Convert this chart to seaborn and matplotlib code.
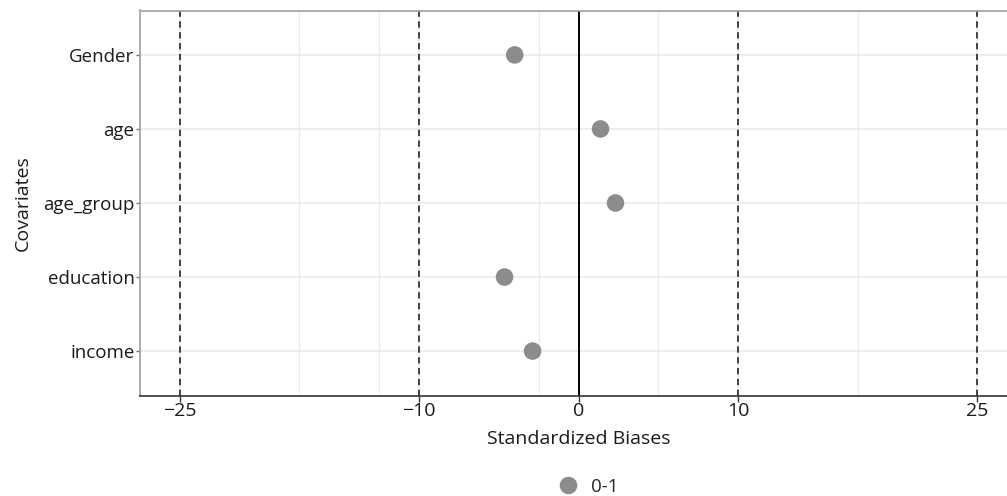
import pandas as pd
import seaborn as sns
import matplotlib.pyplot as plt

# values
covariates = ['Gender', 'age', 'age_group', 'education', 'income']
biases = [-4.0, 1.38, 2.32, -4.64, -2.88]
groups = ['0-1'] * len(covariates)
x_breaks = [-25, -10, 0, 10, 25]
minor_breaks = [-17.5, -12.5, -2.5, 5, 17.5]
ref_lines = [-25, -10, 10, 25]

df = pd.DataFrame({'Covariates': covariates, 'Standardized Biases': biases, 'group': groups})

sns.set_style('white')
plt.rcParams['font.family'] = ['Open Sans', 'DejaVu Sans']

fig = plt.figure(figsize=(10.07, 4.96), dpi=100)
W, H = 1007, 496
left, right, top, bottom = 140, 1017, 10.5, 395.5
ax = fig.add_axes([left / W, 1 - bottom / H, (right - left) / W, (bottom - top) / H])

# grid
for v in minor_breaks:
    ax.axvline(v, color='#ebebeb', lw=0.9, zorder=0)
for v in x_breaks:
    ax.axvline(v, color='#ebebeb', lw=1.2, zorder=0)
for i in range(len(covariates)):
    ax.axhline(i, color='#ebebeb', lw=1.2, zorder=0)

for v in ref_lines:
    ax.axvline(v, color='#333333', lw=1.3, ls=(0, (3.5, 2.5)), zorder=1)
ax.axvline(0, color='black', lw=1.4, zorder=1)

sns.scatterplot(data=df, x='Standardized Biases', y='Covariates', hue='group',
                palette=['#8c8c8c'], s=160, edgecolor='none', ax=ax, zorder=3)

ax.set_xlim(-27.5, 27.5)
ax.set_ylim(len(covariates) - 0.4, -0.6)
ax.set_xticks(x_breaks)
ax.set_xticklabels(['\u221225', '\u221210', '0', '10', '25'])

for side in ['left', 'top', 'right']:
    ax.spines[side].set_color('#a0a0a0')
    ax.spines[side].set_linewidth(1.2)
ax.spines['bottom'].set_color('#333333')
ax.spines['bottom'].set_linewidth(1.2)

ax.tick_params(axis='x', length=4, width=1, color='#333333', labelsize=14,
               labelcolor='#1a1a1a', pad=1, direction='out', bottom=True)
ax.tick_params(axis='y', length=3, width=1, color='#777777', labelsize=13.5,
               labelcolor='#1a1a1a', pad=1, direction='out', left=True)

ax.set_xlabel('Standardized Biases', fontsize=14, color='#1a1a1a', labelpad=7)
ax.set_ylabel('Covariates', fontsize=14, color='#1a1a1a', labelpad=8)

ax.legend_.remove()
handles, labels = ax.get_legend_handles_labels()
fig.legend(handles, labels, loc='center', bbox_to_anchor=(586 / W, 1 - 487 / H),
           frameon=False, fontsize=13.5, markerscale=1.0, handletextpad=0.5,
           handlelength=1.5, borderpad=0)

fig.savefig('out.png', dpi=100)
